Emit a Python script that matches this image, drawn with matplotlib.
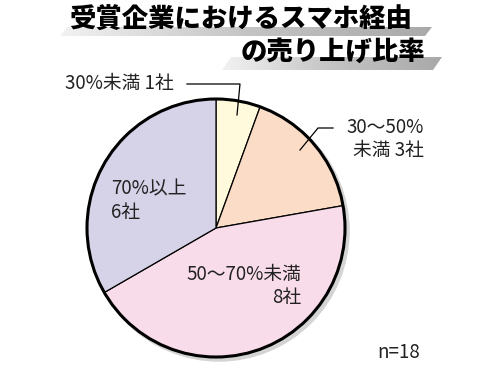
import numpy as np
import matplotlib.pyplot as plt
from matplotlib.patches import Circle, Polygon
from matplotlib.colors import LinearSegmentedColormap

plt.rcParams['font.family'] = ['Noto Sans CJK JP', 'DejaVu Sans']

# data
labels = ['30%未満 1社', '30〜50%\n未満 3社', '50〜70%未満\n8社', '70%以上\n6社']
counts = [1, 3, 8, 6]
colors = ['#fffadc', '#fbdcc7', '#f9dcea', '#d6d3e9']
title1 = '受賞企業におけるスマホ経由'
title2 = 'の売り上げ比率'
note = 'n=18'

H = 375
fig = plt.figure(figsize=(5, 3.75), dpi=100)
ax = fig.add_axes([0, 0, 1, 1])

cx, cy, r = 216, H - 228, 129

# drop shadow behind the pie
ax.add_patch(Circle((cx + 3, cy - 3), r + 1, color='#d4d4d4', zorder=0))

ax.pie(counts, colors=colors, startangle=90, counterclock=False,
       center=(cx, cy), radius=r, frame=True,
       wedgeprops=dict(edgecolor='black', linewidth=0.9))
ax.set_xlim(0, 500)
ax.set_ylim(0, H)
ax.set_aspect('equal')
ax.axis('off')
ax.add_patch(Circle((cx, cy), r, fill=False, edgecolor='black', lw=2.2, zorder=5))

# title bars (gray slanted strips)
grey = LinearSegmentedColormap.from_list('bar', ['#f2f2f2', '#c4c4c4', '#a9a9a9'])

def bar(x0, x1, ytop, ybot, slant):
    pts = [(x0 + slant, H - ytop), (x1, H - ytop), (x1 - slant, H - ybot), (x0, H - ybot)]
    poly = Polygon(pts, closed=True, facecolor='none', edgecolor='none')
    ax.add_patch(poly)
    grad = np.linspace(0, 1, 256).reshape(1, -1)
    im = ax.imshow(grad, cmap=grey, aspect='auto',
                   extent=(x0, x1, H - ybot, H - ytop), zorder=1)
    im.set_clip_path(poly)

bar(60, 432, 27, 36, 7)
bar(222, 442, 57, 70, 9)

ax.text(412, H - 20, title1, fontsize=19, fontweight='heavy', ha='right', va='center', zorder=3)
ax.text(425, H - 52, title2, fontsize=19, fontweight='heavy', ha='right', va='center', zorder=3)

# labels
fs = 13.5
ax.text(65, H - 83, labels[0], fontsize=fs, ha='left', va='center', color='#222222')
ax.plot([187, 240, 237], [H - 84, H - 84, H - 115], color='black', lw=0.9, zorder=6)

ax.text(424, H - 139, labels[1], fontsize=fs, ha='right', va='center',
        multialignment='right', linespacing=1.15, color='#222222')
ax.plot([333, 318, 300], [H - 128, H - 128, H - 150], color='black', lw=0.9, zorder=6)

ax.text(301, H - 286, labels[2], fontsize=fs, ha='right', va='center',
        multialignment='right', linespacing=1.15, color='#222222', zorder=7)
ax.text(111, H - 201, labels[3], fontsize=fs, ha='left', va='center',
        multialignment='left', linespacing=1.15, color='#222222', zorder=7)

ax.text(420, H - 352, note, fontsize=fs, ha='right', va='center', color='#222222')

fig.savefig('out.png', dpi=100)
